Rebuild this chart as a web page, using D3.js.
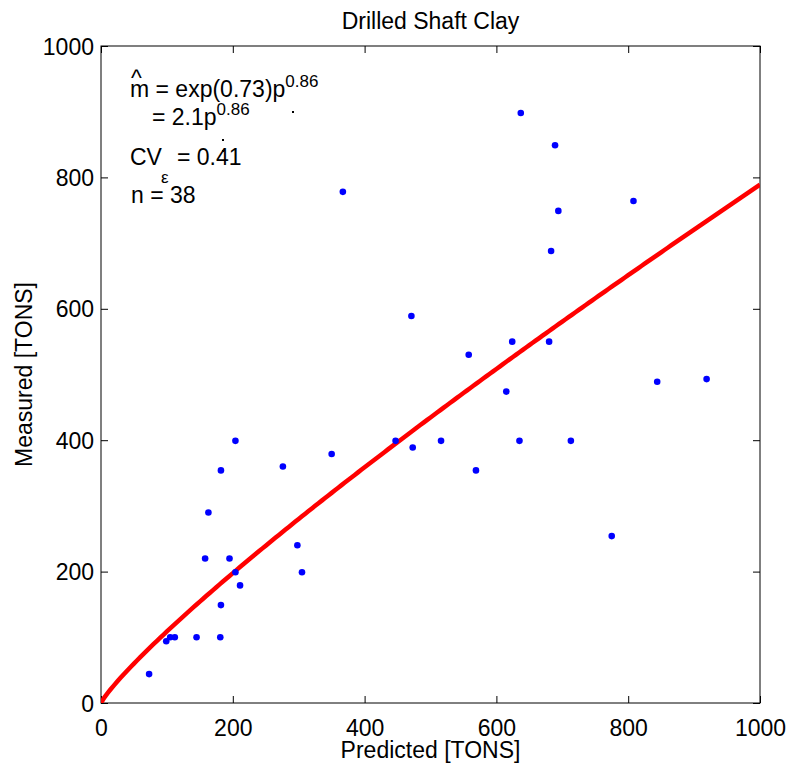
<!DOCTYPE html>
<html>
<head>
<meta charset="utf-8">
<script src="https://cdn.jsdelivr.net/npm/d3@7"></script>
<style>
  body { margin: 0; background: #fff; }
  svg text { font-family: "Liberation Sans", Arial, Helvetica, sans-serif; fill: #000; }
</style>
</head>
<body>
<svg id="chart" width="788" height="764"></svg>
<script>
// measured vs predicted capacity, tons
var predicted = [73, 99, 105, 112, 145, 181, 182, 211, 204, 158, 195, 305, 298, 163, 182, 204, 276, 350,
                 367, 637, 689, 694, 683, 808, 471, 624, 680, 558, 615, 844, 919, 447, 473, 516, 635, 713, 569, 775];
var measured  = [44, 94, 100, 100, 100, 100, 149, 179, 199, 220, 220, 199, 240, 290, 354, 399, 360, 379,
                 778, 898, 849, 749, 688, 764, 589, 550, 550, 530, 474, 489, 493, 399, 389, 399, 399, 399, 354, 254];
var xTicks = [0, 200, 400, 600, 800, 1000];
var yTicks = [0, 200, 400, 600, 800, 1000];
// fitted model m = exp(b0) * p^b1
var fitLnCoef = [0.73];
var fitExp = [0.86];
var fitP = d3.range(0, 1001, 5);

(function() {
  var svg = d3.select("#chart");
  var pL = 101, pR = 760, pT = 46, pB = 703;

  var x = d3.scaleLinear().domain([0, 1000]).range([pL, pR]);
  var y = d3.scaleLinear().domain([0, 1000]).range([pB, pT]);

  svg.append("defs").append("clipPath").attr("id", "clip")
    .append("rect").attr("x", pL).attr("y", pT).attr("width", pR - pL).attr("height", pB - pT);

  var fs = 23;

  // axes with inward ticks on all four sides
  function styleAxis(g) {
    g.select(".domain").remove();
    g.selectAll("line").attr("stroke", "#000");
    g.selectAll("text").style("font-size", fs + "px").attr("fill", "#000");
  }
  svg.append("g").attr("transform", "translate(0," + pB + ")")
    .call(d3.axisBottom(x).tickValues(xTicks).tickSizeInner(-7).tickSizeOuter(0).tickFormat(d3.format("d")))
    .call(styleAxis)
    .selectAll("text").attr("y", 33).attr("dy", null);
  svg.append("g").attr("transform", "translate(0," + pT + ")")
    .call(d3.axisTop(x).tickValues(xTicks).tickSizeInner(-7).tickSizeOuter(0).tickFormat(""))
    .call(styleAxis);
  svg.append("g").attr("transform", "translate(" + pL + ",0)")
    .call(d3.axisLeft(y).tickValues(yTicks).tickSizeInner(-7).tickSizeOuter(0).tickFormat(d3.format("d")))
    .call(styleAxis)
    .selectAll("text").attr("x", -7).attr("dy", null).attr("y", 8);
  svg.append("g").attr("transform", "translate(" + pR + ",0)")
    .call(d3.axisRight(y).tickValues(yTicks).tickSizeInner(-7).tickSizeOuter(0).tickFormat(""))
    .call(styleAxis);

  svg.append("rect").attr("x", pL).attr("y", pT).attr("width", pR - pL).attr("height", pB - pT)
    .attr("fill", "none").attr("stroke", "#000").attr("stroke-width", 1);

  // fit curve
  var line = d3.line()
    .x(function(p) { return x(p); })
    .y(function(p) { return y(Math.exp(fitLnCoef[0]) * Math.pow(p, fitExp[0])); });
  svg.append("path").datum(fitP)
    .attr("clip-path", "url(#clip)")
    .attr("d", line).attr("fill", "none").attr("stroke", "#ff0000").attr("stroke-width", 4.5);

  // points
  svg.append("g").selectAll("circle").data(predicted).enter().append("circle")
    .attr("cx", function(d) { return x(d); })
    .attr("cy", function(d, i) { return y(measured[i]); })
    .attr("r", 3.3).attr("fill", "#0000ff");

  // labels
  svg.append("text").attr("x", (pL + pR) / 2).attr("y", 29).attr("text-anchor", "middle")
    .style("font-size", fs + "px").text("Drilled Shaft Clay");
  svg.append("text").attr("x", (pL + pR) / 2).attr("y", 758).attr("text-anchor", "middle")
    .style("font-size", fs + "px").text("Predicted [TONS]");
  svg.append("text").attr("transform", "translate(32," + (pT + pB) / 2 + ") rotate(-90)")
    .attr("text-anchor", "middle").style("font-size", fs + "px").text("Measured [TONS]");

  // annotation
  var ann = svg.append("g").style("font-size", fs + "px");
  ann.append("text").attr("x", 131).attr("y", 86).text("^");
  var l1 = ann.append("text").attr("x", 130).attr("y", 97);
  l1.append("tspan").text("m = exp(0.73)p");
  l1.append("tspan").attr("dy", -10).style("font-size", "17px").text("0.86");
  var l2 = ann.append("text").attr("x", 152).attr("y", 125);
  l2.append("tspan").text("= 2.1p");
  l2.append("tspan").attr("dy", -10).style("font-size", "17px").text("0.86");
  ann.append("text").attr("x", 130).attr("y", 165).text("CV");
  ann.append("text").attr("x", 161).attr("y", 183).style("font-size", "17px").text("\u03b5");
  ann.append("text").attr("x", 177).attr("y", 165).text("= 0.41");
  ann.append("text").attr("x", 131).attr("y", 203).text("n = 38");
  [[292, 111], [222, 139], [222, 150]].forEach(function(d) {
    ann.append("rect").attr("x", d[0]).attr("y", d[1]).attr("width", 2).attr("height", 2).attr("fill", "#000");
  });
})();
</script>
</body>
</html>
